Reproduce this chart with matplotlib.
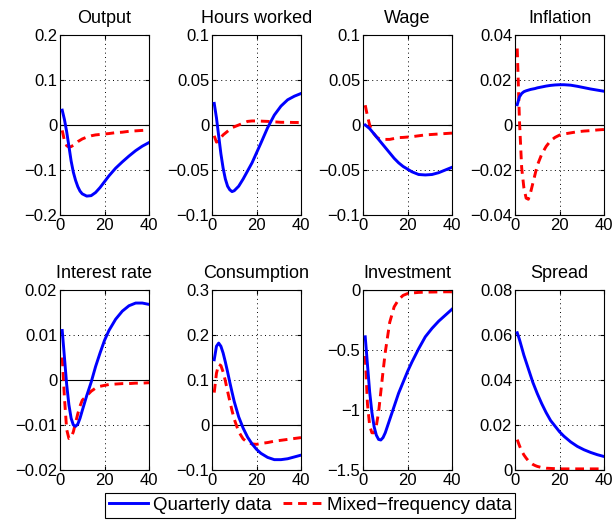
import numpy as np
import matplotlib
matplotlib.use('Agg')
import matplotlib.pyplot as plt
from matplotlib.ticker import FuncFormatter

plt.rcParams['font.family'] = ['Liberation Sans', 'DejaVu Sans']
plt.rcParams['font.size'] = 12

# horizon (quarters) at which the responses are read
quarters = [1, 2, 3, 4, 5, 6, 7, 8, 9, 10, 12, 14, 16, 18, 20, 22, 25, 28, 31, 34, 37, 40]

titles = ['Output', 'Hours worked', 'Wage', 'Inflation',
          'Interest rate', 'Consumption', 'Investment', 'Spread']

output_q = [0.033, 0.012, -0.015, -0.047, -0.080, -0.105, -0.123, -0.137, -0.147, -0.153,
            -0.158, -0.157, -0.150, -0.139, -0.126, -0.113, -0.096, -0.082, -0.069, -0.057, -0.047, -0.039]
output_m = [-0.012, -0.035, -0.046, -0.049, -0.048, -0.045, -0.041, -0.037, -0.034, -0.031,
            -0.027, -0.024, -0.022, -0.021, -0.020, -0.019, -0.017, -0.016, -0.014, -0.013, -0.012, -0.011]

hours_q = [0.024, 0.008, -0.012, -0.032, -0.048, -0.060, -0.068, -0.072, -0.074, -0.073,
           -0.068, -0.060, -0.051, -0.042, -0.031, -0.020, -0.003, 0.011, 0.021, 0.028, 0.032, 0.035]
hours_m = [-0.012, -0.019, -0.018, -0.014, -0.011, -0.009, -0.007, -0.005, -0.003, -0.002,
           0.000, 0.002, 0.004, 0.0045, 0.0045, 0.0043, 0.004, 0.0035, 0.003, 0.003, 0.0028, 0.0028]

wage_q = [0.000, -0.002, -0.004, -0.007, -0.010, -0.013, -0.016, -0.019, -0.022, -0.025,
          -0.031, -0.037, -0.042, -0.046, -0.049, -0.052, -0.055, -0.0555, -0.055, -0.053, -0.050, -0.047]
wage_m = [0.022, 0.010, 0.000, -0.006, -0.010, -0.013, -0.015, -0.016, -0.016, -0.016,
          -0.016, -0.015, -0.014, -0.0138, -0.0134, -0.013, -0.012, -0.011, -0.0105, -0.010, -0.0095, -0.009]

infl_q = [0.009, 0.0125, 0.014, 0.0148, 0.0152, 0.0155, 0.0158, 0.016, 0.0162, 0.0165,
          0.0169, 0.0173, 0.0176, 0.0178, 0.0179, 0.0179, 0.0177, 0.0172, 0.0166, 0.0160, 0.0155, 0.0150]
infl_m = [0.034, 0.002, -0.019, -0.028, -0.0325, -0.033, -0.030, -0.026, -0.022, -0.018,
          -0.013, -0.0095, -0.007, -0.0055, -0.0045, -0.004, -0.0035, -0.003, -0.0027, -0.0025, -0.0022, -0.002]

rate_q = [0.011, 0.005, -0.001, -0.0055, -0.0085, -0.010, -0.0103, -0.0098, -0.0085, -0.0068,
          -0.0035, -0.0005, 0.003, 0.006, 0.0088, 0.011, 0.0135, 0.0153, 0.0165, 0.0171, 0.0171, 0.0168]
rate_m = [0.005, -0.004, -0.011, -0.013, -0.0128, -0.0115, -0.0095, -0.0075, -0.0058, -0.0045,
          -0.0035, -0.0025, -0.0018, -0.0014, -0.0012, -0.001, -0.0009, -0.0008, -0.0008, -0.0007, -0.0007, -0.0006]

cons_q = [0.145, 0.175, 0.182, 0.175, 0.160, 0.140, 0.118, 0.095, 0.073, 0.052,
          0.018, -0.007, -0.027, -0.042, -0.054, -0.063, -0.072, -0.077, -0.077, -0.075, -0.071, -0.067]
cons_m = [0.072, 0.115, 0.135, 0.132, 0.118, 0.098, 0.075, 0.053, 0.032, 0.013,
          -0.015, -0.031, -0.039, -0.042, -0.043, -0.041, -0.039, -0.036, -0.034, -0.032, -0.030, -0.028]

inv_q = [-0.39, -0.62, -0.85, -1.02, -1.14, -1.21, -1.245, -1.25, -1.23, -1.19,
         -1.08, -0.97, -0.86, -0.77, -0.68, -0.60, -0.49, -0.39, -0.32, -0.26, -0.21, -0.16]
inv_m = [-0.55, -0.95, -1.13, -1.19, -1.19, -1.13, -1.02, -0.85, -0.68, -0.52,
         -0.27, -0.14, -0.08, -0.045, -0.03, -0.025, -0.02, -0.018, -0.017, -0.016, -0.015, -0.015]

spread_q = [0.061, 0.058, 0.0545, 0.051, 0.048, 0.045, 0.042, 0.039, 0.0365, 0.034,
            0.0295, 0.0255, 0.022, 0.0195, 0.017, 0.015, 0.0125, 0.0105, 0.009, 0.0078, 0.0068, 0.006]
spread_m = [0.0135, 0.0108, 0.0085, 0.0067, 0.0053, 0.0041, 0.0032, 0.0025, 0.002, 0.0016,
            0.0011, 0.0008, 0.0007, 0.0006, 0.0005, 0.0005, 0.0005, 0.0005, 0.0005, 0.0005, 0.0005, 0.0005]

quarterly = [output_q, hours_q, wage_q, infl_q, rate_q, cons_q, inv_q, spread_q]
mixed = [output_m, hours_m, wage_m, infl_m, rate_m, cons_m, inv_m, spread_m]

yticks = [[-0.2, -0.1, 0, 0.1, 0.2],
          [-0.1, -0.05, 0, 0.05, 0.1],
          [-0.1, -0.05, 0, 0.05, 0.1],
          [-0.04, -0.02, 0, 0.02, 0.04],
          [-0.02, -0.01, 0, 0.01, 0.02],
          [-0.1, 0, 0.1, 0.2, 0.3],
          [-1.5, -1, -0.5, 0],
          [0, 0.02, 0.04, 0.06, 0.08]]

W, H = 614, 521
fig = plt.figure(figsize=(W / 100, H / 100), dpi=100)

col_left = [60, 212, 363, 515]
row_bottom = [215, 470]
ax_w, ax_h = 89, 180

fmt = FuncFormatter(lambda v, p: ('%g' % v).replace('-', '\u2212'))

for i, name in enumerate(titles):
    r, c = divmod(i, 4)
    ax = fig.add_axes([col_left[c] / W, 1 - row_bottom[r] / H, ax_w / W, ax_h / H])
    ax.axhline(0, color='k', lw=0.8, zorder=1)
    ax.plot(quarters, quarterly[i], color='#0000ff', lw=2.1, zorder=3)
    ax.plot(quarters, mixed[i], color='#ff0000', lw=2.1, dashes=(3, 2), zorder=2)
    ax.set_xlim(0, 40)
    ax.set_xticks([0, 20, 40])
    ax.set_ylim(yticks[i][0], yticks[i][-1])
    ax.set_yticks(yticks[i])
    ax.yaxis.set_major_formatter(fmt)
    ax.grid(True, color='k', ls=(0, (1, 3.5)), lw=0.7)
    ax.tick_params(direction='in', top=True, right=True, length=3, pad=2)
    for s in ax.spines.values():
        s.set_linewidth(0.8)
    ax.set_title(name, fontsize=13, pad=9)

handles = [plt.Line2D([], [], color='#0000ff', lw=2.1),
           plt.Line2D([], [], color='#ff0000', lw=2.1, dashes=(3, 2))]
leg = fig.legend(handles, ['Quarterly data', 'Mixed\u2212frequency data'],
                 loc='upper center', bbox_to_anchor=(0.505, 1 - 493 / H), ncol=2,
                 frameon=True, fancybox=False, edgecolor='k', framealpha=1,
                 handlelength=2.1, handletextpad=0.25, columnspacing=0.6,
                 borderpad=0.2, borderaxespad=0, fontsize=13.5)
leg.get_frame().set_linewidth(0.8)

fig.savefig('out.png', dpi=100)
